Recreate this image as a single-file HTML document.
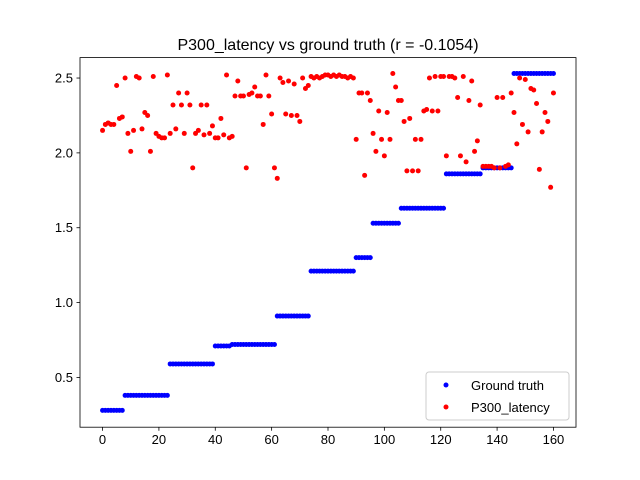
<!DOCTYPE html>
<html><head><meta charset="utf-8"><style>body{margin:0;background:#fff}svg{display:block;font-family:"Liberation Sans","DejaVu Sans",sans-serif}</style></head>
<body>
<svg id="chart" width="640" height="480"></svg>
<script>
const xTicks=[0,20,40,60,80,100,120,140,160];
const yTicks=[0.5,1.0,1.5,2.0,2.5];
const yTickLabels=["0.5","1.0","1.5","2.0","2.5"];
const gtLevels=[0.28,0.38,0.59,0.71,0.72,0.91,1.21,1.30,1.53,1.63,1.86,1.90,2.53];
const gtCounts=[8,16,16,6,16,12,16,6,10,16,13,11,15];
const p300=[2.15,2.19,2.20,2.19,2.19,2.45,2.23,2.24,2.50,2.13,2.01,2.15,2.51,2.50,2.16,2.27,2.25,2.01,2.51,2.13,2.11,2.10,2.10,2.52,2.13,2.32,2.16,2.40,2.32,2.13,2.40,2.32,1.90,2.13,2.15,2.32,2.12,2.32,2.13,2.18,2.10,2.10,2.23,2.12,2.52,2.10,2.11,2.38,2.48,2.38,2.38,1.90,2.39,2.40,2.44,2.38,2.38,2.19,2.52,2.38,2.26,1.90,1.83,2.50,2.47,2.26,2.48,2.25,2.46,2.25,2.21,2.50,2.43,2.45,2.51,2.50,2.51,2.50,2.51,2.52,2.52,2.51,2.52,2.51,2.52,2.51,2.51,2.50,2.51,2.50,2.09,2.40,2.40,1.85,2.40,2.35,2.13,2.01,2.28,2.09,1.98,2.27,2.09,2.53,2.44,2.35,2.35,2.21,1.88,2.23,1.88,2.09,1.88,2.09,2.28,2.29,2.50,2.28,2.51,2.28,2.51,2.51,1.98,2.51,2.51,2.50,2.37,1.98,2.51,1.94,2.35,2.48,2.01,2.08,2.32,1.91,1.91,1.91,1.91,1.90,2.37,1.90,2.37,1.91,1.92,2.40,2.27,2.06,2.50,2.19,2.49,2.14,2.43,2.42,2.33,1.89,2.14,2.27,2.21,1.77,2.40];
const gt=[];gtLevels.forEach((v,k)=>{for(let j=0;j<gtCounts[k];j++)gt.push(v);});
const L=80,R=576,T=57.6,B=427.2,x0=-8,x1=168,y0=0.1675,y1=2.6365;
const X=v=>L+(v-x0)/(x1-x0)*(R-L);
const Y=v=>B-(v-y0)/(y1-y0)*(B-T);
const svg=document.getElementById('chart');const NS='http://www.w3.org/2000/svg';
function mk(t,a,p){const e=document.createElementNS(NS,t);for(const k in a)e.setAttribute(k,a[k]);(p||svg).appendChild(e);return e;}
const title=mk('text',{x:328,y:50,'font-size':16,'text-anchor':'middle'});title.textContent='P300_latency vs ground truth (r = -0.1054)';


const gB=mk('g',{});


gt.forEach((v,i)=>{const c=mk('circle',{cx:X(i),cy:Y(v),r:2.5,fill:'#0000ff'},gB);

});
const gR=mk('g',{});


p300.forEach((v,i)=>{const c=mk('circle',{cx:X(i),cy:Y(v),r:2.5,fill:'#ff0000'},gR);

});
const frame=mk('rect',{x:L,y:T,width:R-L,height:B-T,fill:'none',stroke:'#000','stroke-width':0.8});


xTicks.forEach(t=>{mk('line',{x1:X(t),x2:X(t),y1:B,y2:B+3.5,stroke:'#000','stroke-width':0.8});
const tx=mk('text',{x:X(t),y:B+17,'font-size':13,'text-anchor':'middle'});tx.textContent=t;

});
yTicks.forEach((t,i)=>{mk('line',{x1:L-3.5,x2:L,y1:Y(t),y2:Y(t),stroke:'#000','stroke-width':0.8});
const tx=mk('text',{x:L-7,y:Y(t)+4.5,'font-size':13,'text-anchor':'end'});tx.textContent=yTickLabels[i];

});
const lg=mk('g',{});


mk('rect',{x:426,y:372,width:143,height:48,rx:3,fill:'#fff','fill-opacity':0.8,stroke:'#ccc'},lg);
mk('circle',{cx:446,cy:385,r:2.5,fill:'#0000ff'},lg);
mk('circle',{cx:446,cy:407,r:2.5,fill:'#ff0000'},lg);
const l1=mk('text',{x:471,y:390,'font-size':13},lg);l1.textContent='Ground truth';


const l2=mk('text',{x:471,y:412,'font-size':13},lg);l2.textContent='P300_latency';


</script>
</body></html>
